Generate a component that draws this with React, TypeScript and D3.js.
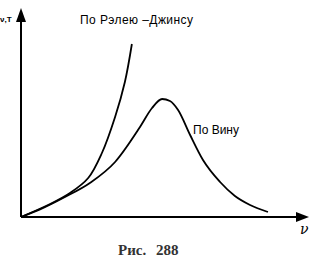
import React from "react";
import * as d3 from "d3";

const rayleighNu = [0, 1.04, 1.75, 2.4, 2.89, 3.36, 3.71, 3.96];
const rayleighR = [0, 0.65, 1.2, 1.95, 3.2, 5.0, 6.75, 8.65];

const wienNu = [0, 0.68, 1.57, 2.46, 3.36, 4.25, 4.68, 5.04, 5.32, 5.61, 6.04, 6.5, 7.11, 7.64, 8.18, 8.82];
const wienR = [0, 0.38, 1.0, 1.7, 2.75, 4.5, 5.45, 5.9, 5.8, 5.35, 4.1, 2.85, 1.75, 1.05, 0.6, 0.25];

const labels = ["По Рэлею –Джинсу", "По Вину"];
const axisLabels = ["ν,T", "ν"];
const captionParts = ["Рис.", "288"];

export default function App() {
  const W = 320, H = 269;
  const x = d3.scaleLinear().domain([0, 10]).range([21, 301]);
  const y = d3.scaleLinear().domain([0, 10]).range([217, 17]);
  const lineRJ = d3
    .line<[number, number]>()
    .x((d) => x(d[0]))
    .y((d) => y(d[1]))
    .curve(d3.curveCatmullRom.alpha(0.5));
  const lineW = d3
    .line<[number, number]>()
    .x((d) => x(d[0]))
    .y((d) => y(d[1]))
    .curve(d3.curveMonotoneX);
  const rj = rayleighNu.map((v, i) => [v, rayleighR[i]] as [number, number]);
  const wi = wienNu.map((v, i) => [v, wienR[i]] as [number, number]);
  const x0 = x(0), y0 = y(0);
  return (
    <svg
      width={W}
      height={H}
      style={{ position: "absolute", left: 0, top: 0, background: "#fff" }}
      fontFamily="'Liberation Sans', Arial, sans-serif"
    >
      <line x1={x0} y1={y0} x2={x0} y2={18} stroke="#000" strokeWidth={2} />
      <path d={`M${x0 - 5},${22} L${x0},${8} L${x0 + 5},${22} Z`} fill="#000" />
      <line x1={x0} y1={y0} x2={298} y2={y0} stroke="#000" strokeWidth={2} />
      <path d={`M${296},${y0 - 5} L${309},${y0} L${296},${y0 + 5} Z`} fill="#000" />
      <path d={lineRJ(rj) || ""} fill="none" stroke="#000" strokeWidth={1.8} />
      <path d={lineW(wi) || ""} fill="none" stroke="#000" strokeWidth={1.8} />
      <text x={80} y={24} fontSize={12} textLength={113} lengthAdjust="spacing">{labels[0]}</text>
      <text x={193} y={134} fontSize={12}>{labels[1]}</text>
      <text x={0} y={22} fontSize={8} fontWeight="bold">{axisLabels[0]}</text>
      <text x={300} y={234} fontSize={14} fontStyle="italic" fontFamily="'DejaVu Serif', serif">{axisLabels[1]}</text>
      <g fontFamily="'Liberation Serif', serif" fill="#333" fontWeight="bold" fontSize={15}>
        <text x={118} y={255}>{captionParts[0]}</text>
        <text x={156} y={255}>{captionParts[1]}</text>
      </g>
    </svg>
  );
}
